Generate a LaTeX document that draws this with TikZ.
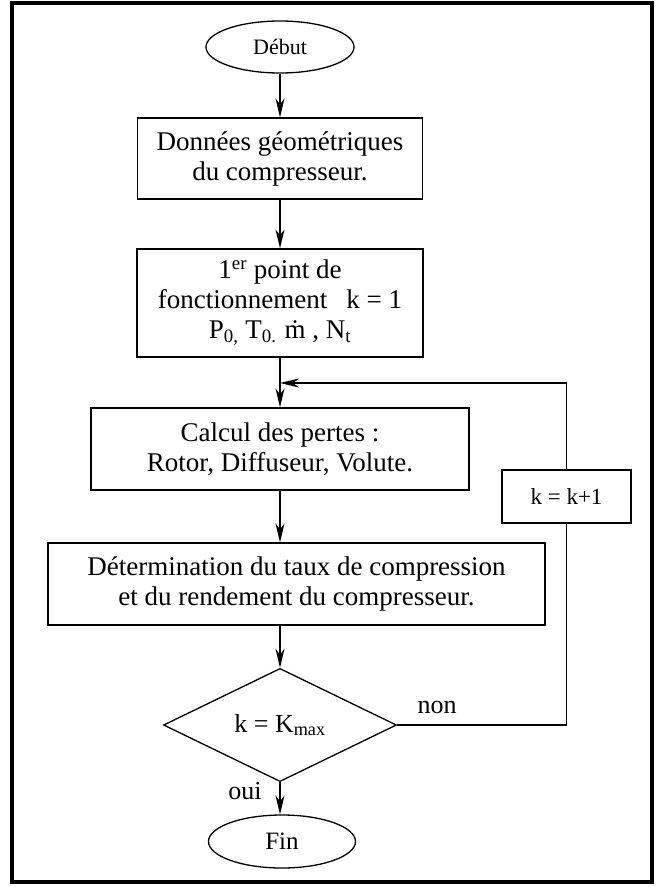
\documentclass[tikz,border=0pt]{standalone}
\usepackage{fontspec}
\setmainfont{Liberation Serif}
\usetikzlibrary{shapes.geometric,arrows.meta}
\begin{document}
\begin{tikzpicture}[x=1pt,y=-1pt,
  box/.style={draw,line width=1.3pt,inner sep=0pt,align=center,font=\fontsize{27}{30}\selectfont},
  term/.style={draw,ellipse,line width=1.3pt,inner sep=0pt},
  arr/.style={line width=1.3pt,-{Stealth[length=19pt,width=9pt,inset=6pt]}},
  conn/.style={line width=1.3pt},
  lbl/.style={font=\fontsize{26}{30}\selectfont}]
\useasboundingbox (0,0) rectangle (661,887);
\draw[line width=3.5pt] (12,3) rectangle (652,882);
\node[term,minimum width=148pt,minimum height=52pt,font=\fontsize{22}{26}\selectfont] (debut) at (280,47) {Début};
\node[box,minimum width=285pt,minimum height=81pt] (b1) at (280,158.5) {Données géométriques\\du compresseur.};
\node[box,minimum width=286pt,minimum height=108pt] (b2) at (280,303) {1\textsuperscript{er} point de\\fonctionnement\hspace{0.7em}k = 1\\P\textsubscript{0,} T\textsubscript{0.}\hspace{0.3em}\.m , N\textsubscript{t}};
\node[box,minimum width=378pt,minimum height=82pt] (b3) at (280,449) {Calcul des pertes :\\Rotor, Diffuseur, Volute.};
\node[box,minimum width=497pt,minimum height=82pt] (b4) at (296.5,584) {Détermination du taux de compression\\et du rendement du compresseur.};
\node[box,minimum width=129pt,minimum height=53pt,font=\fontsize{23}{28}\selectfont] (kbox) at (566.5,496.5) {k = k+1};
\node[draw,diamond,line width=1.3pt,inner sep=0pt,minimum width=233pt,minimum height=94pt,font=\fontsize{26}{30}\selectfont] (dec) at (280,725) {k = K\textsubscript{max}};
\node[term,minimum width=147pt,minimum height=53pt,font=\fontsize{25}{30}\selectfont] (fin) at (282,841.5) {Fin};
\coordinate (loopend) at (280,383);
\draw[arr] (debut) -- (b1);
\draw[arr] (b1) -- (b2);
\draw[arr] (b2) -- (b3);
\draw[arr] (b3.south) -- (b3.south |- b4.north);
\draw[arr] (b3.south |- b4.south) -- (dec.north);
\draw[arr] (dec.south) -- (dec.south |- fin.north);
\draw[conn] (dec.east) -| (kbox.south);
\draw[arr] (kbox.north) |- (loopend);
\node[lbl] (non) at (437,707) {non};
\node[lbl] (oui) at (245,791) {oui};
\end{tikzpicture}
\end{document}
